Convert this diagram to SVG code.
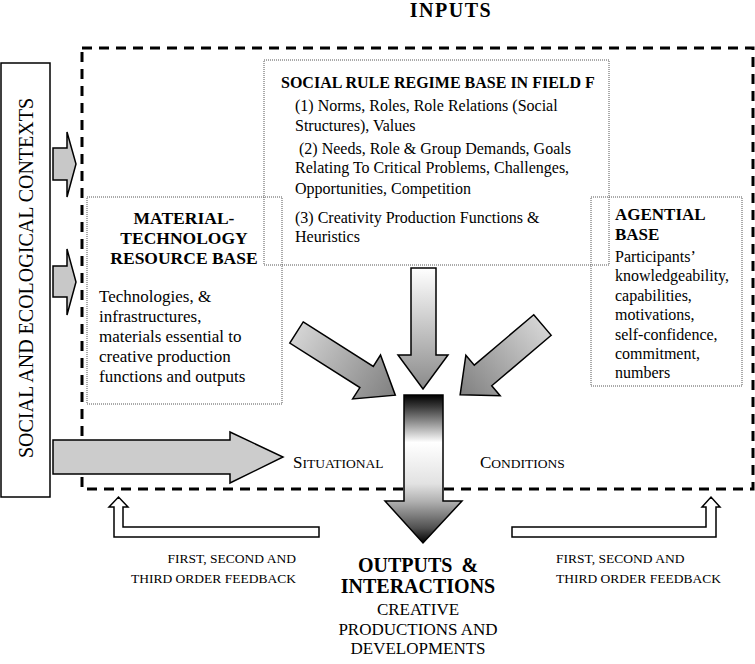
<svg xmlns="http://www.w3.org/2000/svg" width="755" height="664" viewBox="0 0 755 664">
<defs>
<linearGradient id="gDiag" x1="0" y1="0" x2="1" y2="0">
<stop offset="0" stop-color="#d4d4d4"/>
<stop offset="1" stop-color="#808080"/>
</linearGradient>
<linearGradient id="gDown" x1="0" y1="0" x2="0" y2="1">
<stop offset="0" stop-color="#ffffff"/>
<stop offset="1" stop-color="#8a8a8a"/>
</linearGradient>
<linearGradient id="gOut" x1="0" y1="0" x2="0" y2="1">
<stop offset="0" stop-color="#000000"/>
<stop offset="0.08" stop-color="#3a3a3a"/>
<stop offset="0.32" stop-color="#ffffff"/>
<stop offset="0.6" stop-color="#e2e2e2"/>
<stop offset="0.72" stop-color="#b0b0b0"/>
<stop offset="0.9" stop-color="#505050"/>
<stop offset="1" stop-color="#000000"/>
</linearGradient>
</defs>
<style>
text{font-family:"Liberation Serif","Times New Roman",serif;fill:#000}
.b{font-weight:bold}
.dot{fill:none;stroke:#555;stroke-width:1;stroke-dasharray:1 1}
.arr{stroke:#000;stroke-width:1.5;stroke-linejoin:miter}
.body{font-size:16px}
</style>
<rect width="755" height="664" fill="#fff"/>

<text class="b" x="451" y="17" font-size="20" text-anchor="middle" letter-spacing="1.5">INPUTS</text>

<g id="inputs-frame">
<rect x="82" y="48" width="671" height="441" fill="none" stroke="#000" stroke-width="3" stroke-dasharray="10 7"/>
</g>

<g id="contexts">
<rect x="1" y="63" width="49" height="434" fill="#fff" stroke="#000" stroke-width="1.5"/>
<text x="0" y="0" font-size="20" text-anchor="middle" transform="translate(33,278) rotate(-90)">SOCIAL AND ECOLOGICAL CONTEXTS</text>
</g>

<g id="social-rule">
<rect class="dot" x="264" y="60" width="345" height="205"/>
<text class="b" x="281" y="88" font-size="16">SOCIAL RULE REGIME BASE IN FIELD F</text>
<text class="body" x="295" y="111">(1) Norms, Roles, Role Relations (Social</text>
<text class="body" x="295" y="131">Structures), Values</text>
<text class="body" x="299" y="154">(2) Needs, Role &amp; Group Demands, Goals</text>
<text class="body" x="295" y="173">Relating To Critical Problems, Challenges,</text>
<text class="body" x="295" y="194">Opportunities, Competition</text>
<text class="body" x="295" y="223">(3) Creativity Production Functions &amp;</text>
<text class="body" x="295" y="242">Heuristics</text>
</g>

<g id="material">
<rect class="dot" x="87" y="197" width="195" height="207"/>
<text class="b" x="184" y="224" font-size="17.5" text-anchor="middle">MATERIAL-</text>
<text class="b" x="184" y="244" font-size="17.5" text-anchor="middle">TECHNOLOGY</text>
<text class="b" x="184" y="264" font-size="17.5" text-anchor="middle">RESOURCE BASE</text>
<text x="99" y="302" font-size="17">Technologies, &amp;</text>
<text x="99" y="322" font-size="17">infrastructures,</text>
<text x="99" y="342" font-size="17">materials essential to</text>
<text x="99" y="362" font-size="17">creative production</text>
<text x="99" y="382" font-size="17">functions and outputs</text>
</g>

<g id="agential">
<rect class="dot" x="591" y="197" width="151" height="189"/>
<text class="b" x="615" y="220" font-size="17">AGENTIAL</text>
<text class="b" x="615" y="240" font-size="17">BASE</text>
<text class="body" x="615" y="262">Participants’</text>
<text class="body" x="615" y="281">knowledgeability,</text>
<text class="body" x="615" y="301">capabilities,</text>
<text class="body" x="615" y="320">motivations,</text>
<text class="body" x="615" y="340">self-confidence,</text>
<text class="body" x="615" y="359">commitment,</text>
<text class="body" x="615" y="378">numbers</text>
</g>

<g id="connectors">
<polygon class="arr" fill="#c8c8c8" points="53,148 67,148 67,132 76,164 67,197 67,180 53,180"/>
<polygon class="arr" fill="#c8c8c8" points="53,266 67,266 67,249 76,282 67,315 67,297 53,297"/>
<polygon class="arr" fill="#cccccc" points="53,440 230,440 230,432 283,457 230,483 230,474 53,474"/>
<polygon class="arr" fill="url(#gDiag)" transform="translate(296.5,332.5) rotate(32.4)" points="0,-12.5 83,-12.5 83,-26 117,0 83,26 83,12.5 0,12.5"/>
<polygon class="arr" fill="url(#gDiag)" transform="translate(542.5,325) rotate(139.7)" points="0,-13.5 78,-13.5 78,-26.5 108,0 78,26.5 78,13.5 0,13.5"/>
<polygon class="arr" fill="url(#gDown)" points="411,268 436,268 436,355 448,355 423,389 398,355 411,355"/>
<polygon class="arr" fill="url(#gOut)" points="404,395 443,395 443,501 462,501 423,543 385,501 404,501"/>
<polygon class="arr" fill="#fff" points="114,537 319,537 319,527 123,527 123,507 128,507 118.5,497 109,507 114,507"/>
<polygon class="arr" fill="#fff" points="512,537 716,537 716,507 720,507 711,497 702,507 706,507 706,527 512,527"/>
</g>

<g id="conditions-labels">
<text x="293" y="468"><tspan font-size="17">S</tspan><tspan font-size="13.5">ITUATIONAL</tspan></text>
<text x="480" y="468"><tspan font-size="17">C</tspan><tspan font-size="13.5">ONDITIONS</tspan></text>
</g>

<g id="feedback-left">
<text x="296" y="563" font-size="13.5" text-anchor="end">FIRST, SECOND AND</text>
<text x="296" y="583" font-size="13.5" text-anchor="end">THIRD ORDER FEEDBACK</text>
</g>
<g id="feedback-right">
<text x="556" y="563" font-size="13.5">FIRST, SECOND AND</text>
<text x="556" y="583" font-size="13.5">THIRD ORDER FEEDBACK</text>
</g>

<g id="outputs">
<text class="b" x="418" y="572" font-size="20" text-anchor="middle" word-spacing="4">OUTPUTS &amp;</text>
<text class="b" x="418" y="593" font-size="20" text-anchor="middle">INTERACTIONS</text>
<text x="418" y="615" font-size="17" text-anchor="middle">CREATIVE</text>
<text x="418" y="635" font-size="17" text-anchor="middle">PRODUCTIONS AND</text>
<text x="418" y="654" font-size="17" text-anchor="middle">DEVELOPMENTS</text>
</g>
</svg>
